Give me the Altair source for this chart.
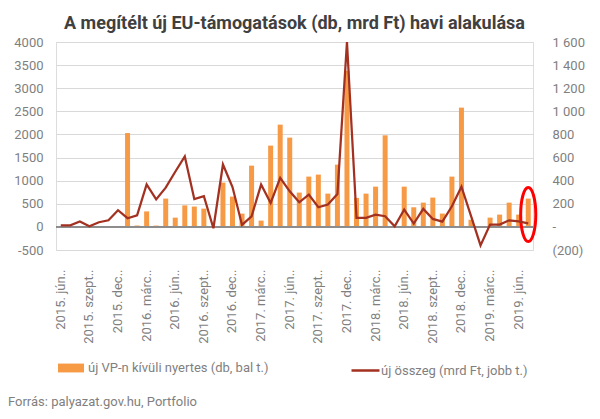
import altair as alt
import pandas as pd

# ---- data ----
month_names = ["jan.", "febr.", "márc.", "ápr.", "máj.", "jún.", "júl.", "aug.", "szept.", "okt.", "nov.", "dec."]
start_year, start_month, n_months = 2015, 5, 50
labels = []
for i in range(n_months):
    m = start_month + i
    labels.append(f"{start_year + m // 12}. {month_names[m % 12]}.")
tick_labels = labels[::3]

# új VP-n kívüli nyertes (db) - left axis
bars_db = [0, 0, 0, 0, 0, 0, 0, 2030, 30, 335,
           28, 612, 200, 465, 440, 395, 0, 958, 655, 287,
           1325, 136, 1758, 2212, 1931, 742, 1088, 1131, 720, 1347,
           3380, 627, 720, 871, 1981, 0, 871, 424, 525, 634,
           288, 1088, 2580, 155, 0, 200, 266, 525, 266, 612]

# új összeg (mrd Ft) - right axis
line_mrd = [14, 14, 46, 5, 40, 57, 144, 75, 100, 367,
            238, 340, 477, 610, 240, 265, -12, 540, 345, 17,
            92, 366, 207, 425, 308, 213, 279, 170, 193, 285,
            1600, 78, 78, 106, 92, 5, 150, 29, 156, 69,
            46, 178, 348, 95, -160, 20, 20, 57, 48, 31]

left_ticks = [-500, 0, 500, 1000, 1500, 2000, 2500, 3000, 3500, 4000]
right_ticks = [-200, 0, 200, 400, 600, 800, 1000, 1200, 1400, 1600]

series_bar = "új VP-n kívüli nyertes (db, bal t.)"
series_line = "új összeg (mrd Ft, jobb t.)"
title_text = "A megítélt új EU-támogatások (db, mrd Ft) havi alakulása"
source_text = "Forrás: palyazat.gov.hu, Portfolio"

# highlight annotation (red ellipse around the last month)
highlight_month = [labels[-1]]
highlight_db = [266]

df = pd.DataFrame({"honap": labels, "db": bars_db, "mrd": line_mrd,
                   "s1": series_bar, "s2": series_line})
hl = pd.DataFrame({"honap": highlight_month, "db": highlight_db})
src = pd.DataFrame({"t": [source_text]})

FONT = "Roboto"
GRAY = "#7f7f7f"
ORANGE = "#F79A46"
RED = "#A33121"

x_axis = alt.Axis(values=tick_labels, labelAngle=270, labelAlign="right",
                  labelBaseline="middle", labelPadding=19, labelFont=FONT,
                  labelFontSize=13, labelColor=GRAY, domain=False, ticks=False,
                  grid=False, title=None, labelOverlap=False, labelLimit=0)
x_enc = alt.X("honap:N", sort=labels,
              scale=alt.Scale(paddingInner=0.48, paddingOuter=0.24), axis=x_axis)

left_scale = alt.Scale(domain=[-500, 4000], nice=False, zero=False)
left_axis = alt.Axis(values=left_ticks, grid=True, gridColor="#d9d9d9",
                     domain=False, ticks=False, labelPadding=13, title=None,
                     labelOverlap=False, labelFlush=False,
                     labelFont=FONT, labelFontSize=13, labelColor=GRAY,
                     labelExpr="datum.value < 0 ? '-' + abs(datum.value) : '' + datum.value")

bars = alt.Chart(df).mark_bar(size=5).encode(
    x=x_enc,
    y=alt.Y("db:Q", scale=left_scale, axis=left_axis),
    color=alt.Color("s1:N", scale=alt.Scale(range=[ORANGE]),
                    legend=alt.Legend(orient="none", legendX=2, legendY=313, title=None,
                                      symbolType="M-1,-0.34H1V0.34H-1Z", symbolSize=676,
                                      symbolStrokeWidth=0, labelFont=FONT, labelFontSize=13,
                                      labelColor=GRAY, labelOffset=4, padding=0, labelLimit=400)),
)

zero_rule = alt.Chart(df).mark_rule(color="#8c8c8c", strokeWidth=1).encode(
    y=alt.datum(0, scale=left_scale, axis=left_axis)
)

ellipse = alt.Chart(hl).mark_point(
    shape="M-0.28,0A0.28,1 0 1,1 0.28,0A0.28,1 0 1,1 -0.28,0Z",
    size=2916, filled=False, stroke="#FF0000", strokeWidth=3, opacity=1
).encode(x=alt.X("honap:N", sort=labels, axis=x_axis),
         y=alt.Y("db:Q", scale=left_scale, axis=left_axis))

source = alt.Chart(src).mark_text(align="left", baseline="middle", font=FONT,
                                  fontSize=13, color=GRAY).encode(
    x=alt.value(-48), y=alt.value(360), text="t:N")

left_layer = alt.layer(bars, zero_rule, ellipse, source)

line = alt.Chart(df).mark_line(strokeWidth=2.25).encode(
    x=alt.X("honap:N", sort=labels, axis=x_axis),
    y=alt.Y("mrd:Q", scale=alt.Scale(domain=[-200, 1600], nice=False, zero=False),
            axis=alt.Axis(orient="right", values=right_ticks, grid=False,
                          domain=False, ticks=False, labelPadding=19, title=None,
                          labelOverlap=False, labelFlush=False,
                          labelFont=FONT, labelFontSize=13, labelColor=GRAY,
                          labelExpr="datum.value == 0 ? '-' : (datum.value < 0 ? '(' + replace(format(abs(datum.value), ','), ',', ' ') + ')' : replace(format(datum.value, ','), ',', ' '))")),
    stroke=alt.Stroke("s2:N", scale=alt.Scale(range=[RED]),
                      legend=alt.Legend(orient="none", legendX=294, legendY=313, title=None,
                                        symbolType="stroke", symbolSize=784,
                                        symbolStrokeWidth=2.5, labelFont=FONT, labelFontSize=13,
                                        labelColor=GRAY, labelOffset=0, padding=0, labelLimit=400)),
)

chart = alt.layer(left_layer, line).resolve_scale(y="independent").properties(
    width=477, height=208,
    autosize=alt.AutoSizeParams(type="none"),
    padding={"left": 48, "top": 34, "right": 59, "bottom": 161},
    title=alt.TitleParams(title_text, font=FONT, fontSize=18, fontWeight="bold",
                          color="#404040", anchor="middle", offset=3),
).configure_view(stroke=None).configure_axis(labelOverlap=False).configure(background="white")

chart.save("out.html", embed_options={"renderer": "svg", "actions": False})
